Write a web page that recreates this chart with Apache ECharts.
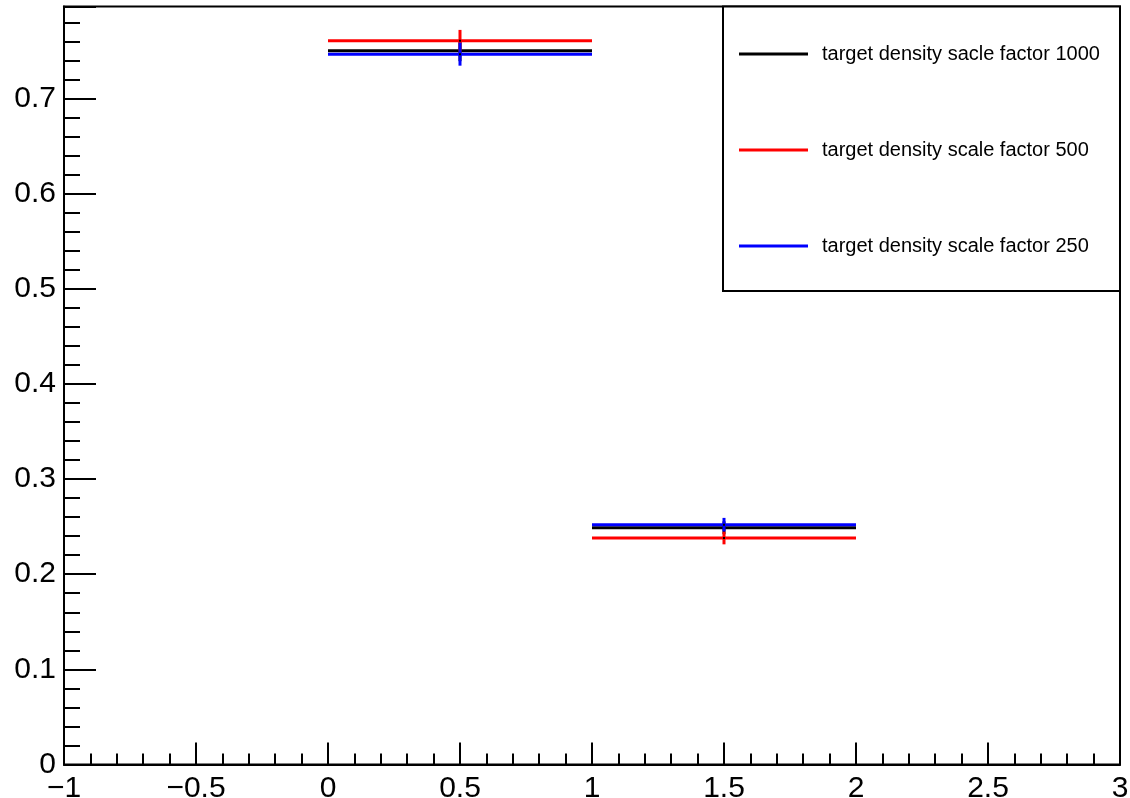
<!DOCTYPE html>
<html>
<head>
<meta charset="utf-8">
<script src="https://cdn.jsdelivr.net/npm/echarts@6/dist/echarts.min.js"></script>
<style>
html,body{margin:0;padding:0;background:#fff;}
#chart{width:1130px;height:798px;}
</style>
</head>
<body>
<div id="chart"></div>
<script>
// ---- data ----
const binLowEdges = [0, 1];
const binHighEdges = [1, 2];
const binCenters = [0.5, 1.5];
const seriesNames = [
  'target density sacle factor 1000',
  'target density scale factor 500',
  'target density scale factor 250'
];
const seriesColors = ['#000000', '#ff0000', '#0000ff'];
const values1000 = [0.7502, 0.2488];
const errors1000 = [0.0110, 0.0068];
const values500 = [0.7607, 0.2381];
const errors500 = [0.0114, 0.0067];
const values250 = [0.7466, 0.2521];
const errors250 = [0.0121, 0.0071];
const xMin = -1, xMax = 3, xInterval = 0.5;
const yMin = 0, yMax = 0.7967, yInterval = 0.1;

const allValues = [values1000, values500, values250];
const allErrors = [errors1000, errors500, errors250];

function buildData(vals, errs) {
  return binCenters.map((c, i) => [c, vals[i], errs[i], binLowEdges[i], binHighEdges[i]]);
}

function renderItem(params, api) {
  const x = api.value(0), y = api.value(1), e = api.value(2), lo = api.value(3), hi = api.value(4);
  const color = api.visual('color');
  const pL = api.coord([lo, y]);
  const pR = api.coord([hi, y]);
  const pT = api.coord([x, y + e]);
  const pB = api.coord([x, y - e]);
  const pC = api.coord([x, y]);
  return {
    type: 'group',
    children: [
      { type: 'line', shape: { x1: pL[0], y1: pL[1], x2: pR[0], y2: pR[1] }, style: { stroke: color, lineWidth: 3 } },
      { type: 'line', shape: { x1: pT[0], y1: pT[1], x2: pB[0], y2: pB[1] }, style: { stroke: color, lineWidth: 3 } },
      { type: 'rect', shape: { x: pC[0] - 1, y: pC[1] - 1, width: 2, height: 2 }, style: { fill: '#000' } }
    ]
  };
}

const FONT = "'Liberation Sans', Arial, Helvetica, sans-serif";
const chart = echarts.init(document.getElementById('chart'), null, { renderer: 'canvas' });

const series = seriesNames.map((name, k) => ({
  name: name,
  type: 'custom',
  renderItem: renderItem,
  itemStyle: { color: seriesColors[k] },
  data: buildData(allValues[k], allErrors[k]),
  z: 2 + k,
  silent: true,
  animation: false
}));

chart.setOption({
  animation: false,
  backgroundColor: '#ffffff',
  textStyle: { fontFamily: FONT },
  grid: {
    left: 64, right: 10, top: 6.5, bottom: 33.5,
    outerBoundsMode: 'none', containLabel: false,
    show: true, borderColor: '#000', borderWidth: 2, backgroundColor: 'transparent'
  },
  xAxis: {
    type: 'value', min: xMin, max: xMax, interval: xInterval,
    axisLine: { show: true, onZero: false, lineStyle: { color: '#000', width: 2 } },
    axisTick: { show: true, inside: true, length: 22, lineStyle: { color: '#000', width: 2 } },
    minorTick: { show: true, splitNumber: 5, length: 11, lineStyle: { color: '#000', width: 2 } },
    splitLine: { show: false },
    axisLabel: {
      show: true, margin: 9, color: '#000', fontSize: 30, fontFamily: FONT,
      formatter: v => String(v).replace('-', '\u2212')
    }
  },
  yAxis: {
    type: 'value', min: yMin, max: yMax, interval: yInterval,
    axisLine: { show: true, onZero: false, lineStyle: { color: '#000', width: 2 } },
    axisTick: { show: true, inside: true, length: 32, lineStyle: { color: '#000', width: 2 } },
    minorTick: { show: true, splitNumber: 5, length: 16, lineStyle: { color: '#000', width: 2 } },
    splitLine: { show: false },
    axisLabel: {
      show: true, margin: 8, color: '#000', fontSize: 30, fontFamily: FONT,
      showMaxLabel: false,
      formatter: v => (Math.abs(v / yInterval - Math.round(v / yInterval)) < 1e-6 ? String(+v.toFixed(1)) : '')
    }
  },
  legend: {
    orient: 'vertical',
    left: 739, top: 44,
    itemWidth: 69, itemHeight: 3, itemGap: 76,
    padding: 0,
    icon: 'rect',
    selectedMode: false,
    data: seriesNames.map(n => ({ name: n, icon: 'rect' })),
    textStyle: { fontSize: 20, fontFamily: FONT, color: '#000', lineHeight: 20, padding: [0, 0, 0, 9] },
    z: 10
  },
  graphic: [{
    type: 'rect', z: 5,
    shape: { x: 723, y: 6.5, width: 397, height: 284.5 },
    style: { fill: '#fff', stroke: '#000', lineWidth: 2 }
  }],
  series: series
});
</script>
</body>
</html>
